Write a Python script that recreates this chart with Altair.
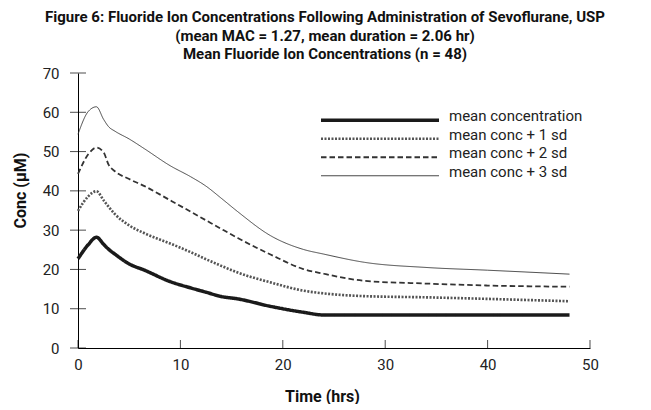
import altair as alt
import pandas as pd

# ---- data ----
series = ["mean concentration", "mean conc + 1 sd", "mean conc + 2 sd", "mean conc + 3 sd"]
time_hrs = [0, 1, 1.8, 2.5, 3, 3.6, 5, 6.5, 9, 11, 12.5, 14, 15.6, 18.8, 22, 24, 28, 34, 40, 48]
mean_conc = [22.7, 26.3, 28.2, 26.4, 25.1, 23.9, 21.4, 19.8, 16.9, 15.3, 14.2, 13.1, 12.5, 10.6, 9.1, 8.4, 8.4, 8.4, 8.4, 8.4]
plus_1sd = [34.9, 38.6, 39.9, 37.6, 35.9, 34.1, 31.2, 29.2, 26.6, 24.4, 22.6, 20.9, 19.2, 16.7, 14.6, 13.9, 13.2, 12.9, 12.5, 11.9]
plus_2sd = [44.3, 49.3, 51.0, 49.8, 46.6, 45.0, 43.0, 41.2, 37.6, 34.7, 32.5, 30.3, 28.0, 23.8, 20.1, 18.9, 17.1, 16.4, 15.9, 15.6]
plus_3sd = [54.4, 60.2, 61.4, 58.2, 56.3, 55.2, 53.2, 50.7, 46.4, 43.6, 41.2, 38.1, 34.7, 28.6, 25.1, 23.9, 21.8, 20.5, 19.8, 18.8]
x_ticks = [0, 10, 20, 30, 40, 50]
y_ticks = [0, 10, 20, 30, 40, 50, 60, 70]

title_lines = [
    "Figure 6: Fluoride Ion Concentrations Following Administration of Sevoflurane, USP",
    "(mean MAC = 1.27, mean duration = 2.06 hr)",
    "Mean Fluoride Ion Concentrations (n = 48)",
]

rows = []
for name, vals in zip(series, [mean_conc, plus_1sd, plus_2sd, plus_3sd]):
    for t, v in zip(time_hrs, vals):
        rows.append({"series": name, "time": t, "conc": v})
df = pd.DataFrame(rows)
legend_df = pd.DataFrame({"series": series})
xt_df = pd.DataFrame({"v": x_ticks})
yt_df = pd.DataFrame({"v": y_ticks})

FONT = "Roboto, Liberation Sans, sans-serif"

xscale = alt.Scale(domain=[0, 50], nice=False, zero=False)
yscale = alt.Scale(domain=[0, 70], nice=False)
xaxis = alt.Axis(values=x_ticks, title="Time (hrs)", titleX=244, titleY=48,
                 titleBaseline="middle", labelOverlap=False, labelFlush=False)
yaxis = alt.Axis(values=y_ticks, title="Conc (µM)", titleX=-58, titleY=117,
                 titleBaseline="middle", labelOverlap=False, labelFlush=False)
dash_scale = alt.Scale(domain=series, range=[[1, 0], [2, 1.5], [5.5, 3], [1, 0]])
width_scale = alt.Scale(domain=series, range=[3.5, 0.9, 1, 1])
color_scale = alt.Scale(domain=series, range=["#1a1a1a", "#555555", "#333333", "#333333"])

lines = alt.Chart(df).mark_line(interpolate="monotone").encode(
    x=alt.X("time:Q", scale=xscale, axis=xaxis),
    y=alt.Y("conc:Q", scale=yscale, axis=yaxis),
    strokeDash=alt.StrokeDash("series:N", scale=dash_scale, legend=None),
    strokeWidth=alt.StrokeWidth("series:N", scale=width_scale, legend=None),
    color=alt.Color("series:N", scale=color_scale, legend=None),
    detail="series:N",
)

yticks = alt.Chart(yt_df).mark_tick(orient="horizontal", size=16, thickness=1, color="black").encode(
    x=alt.XDatum(0, scale=xscale, axis=xaxis), y=alt.Y("v:Q", scale=yscale, axis=yaxis)
)
xticks = alt.Chart(xt_df).mark_tick(orient="vertical", size=8, thickness=1, color="black", yOffset=-4).encode(
    x=alt.X("v:Q", scale=xscale, axis=xaxis), y=alt.YDatum(0, scale=yscale, axis=yaxis)
)

main = alt.layer(lines, yticks, xticks)

leg_y = alt.Y("series:N", scale=alt.Scale(domain=series, range=[38, 112], padding=0), axis=None)
leg_rules = alt.Chart(legend_df).mark_rule().encode(
    x=alt.value(243), x2=alt.value(361), y=leg_y,
    strokeDash=alt.StrokeDash("series:N", scale=dash_scale, legend=None),
    strokeWidth=alt.StrokeWidth("series:N", scale=width_scale, legend=None),
    color=alt.Color("series:N", scale=color_scale, legend=None),
)
leg_text = alt.Chart(legend_df).mark_text(
    align="left", baseline="middle", dy=-4, font=FONT, fontSize=15, color="#222222"
).encode(x=alt.value(371), y=leg_y, text="series:N")
legend = alt.layer(leg_rules, leg_text)

chart = alt.layer(main, legend).resolve_scale(y="independent").properties(
    width=512, height=275,
    autosize="none",
    padding={"left": 70, "top": 65, "right": 45, "bottom": 56},
    title=alt.TitleParams(text=title_lines, font=FONT, fontSize=15, fontWeight="bold",
                          color="#111111", lineHeight=18.5, anchor="middle", dx=-9, offset=4),
).configure_view(strokeWidth=0).configure_axis(
    grid=False, domainColor="black", domainWidth=1, tickSize=0,
    labelFont=FONT, labelFontSize=15, labelColor="#222222",
    titleFont=FONT, titleFontSize=16, titleFontWeight="bold", titleColor="#111111",
).configure_axisX(labelPadding=9).configure_axisY(labelPadding=19)

chart.save("out.html", embed_options={"renderer": "svg", "actions": False})
